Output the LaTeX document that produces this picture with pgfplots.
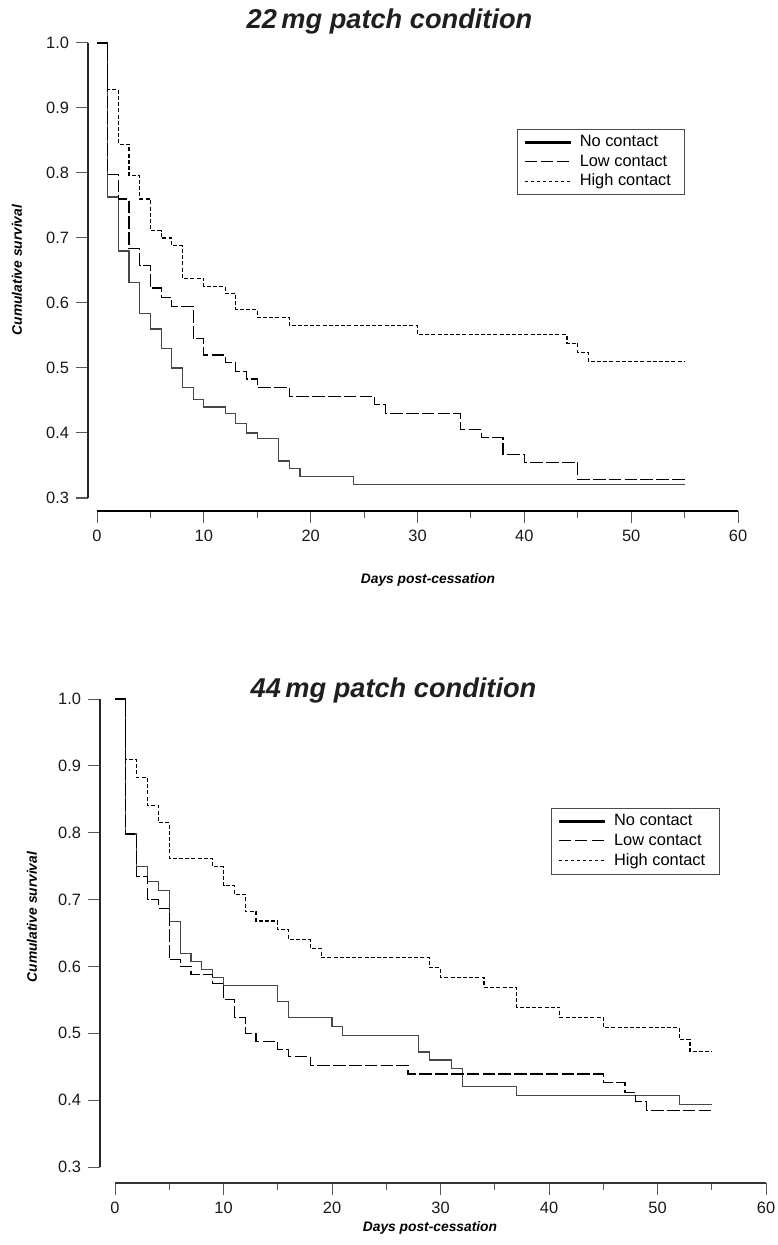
\documentclass[border=0pt]{standalone}
\usepackage{pgfplots}
\pgfplotsset{compat=1.18}
\usepackage{fontspec}
\setmainfont{Liberation Sans}

\pgfplotsset{
  kmaxis/.style={
    scale only axis,
    xmin=0, xmax=60, ymin=0.3, ymax=1.0,
    axis x line=bottom, axis y line=left,
    axis line style={-},
    x axis line style={line width=1pt, black},
    y axis line style={line width=0.7pt, black!85},
    xtick={0,10,...,60}, minor x tick num=1,
    ytick={0.3,0.4,...,1.0},
    tick align=outside,
    major tick length=6pt, minor tick length=3.5pt,
    every tick/.style={black!65, line width=0.5pt},
    tick label style={font=\fontsize{8.2}{9.5}\selectfont, black!90},
    /pgf/number format/assume math mode=true,
    yticklabel style={/pgf/number format/.cd, fixed, fixed zerofill, precision=1},
    xticklabel style={/pgf/number format/.cd, fixed, precision=0},
    clip=false,
    legend cell align=left,
    legend style={draw=black!70, line width=0.5pt, fill=white,
      font=\fontsize{8.2}{9.6}\selectfont,
      inner xsep=3pt, inner ysep=1pt, row sep=-1.5pt,
      nodes={inner xsep=4pt, inner ysep=2pt}},
    legend image code/.code={\draw[##1] (0pt,0pt) -- (23pt,0pt);},
  },
  nocon/.style={const plot, black!72, line width=0.6pt},
  lowcon/.style={const plot, black, line width=0.6pt, dash pattern=on 6.3pt off 1.6pt},
  highcon/.style={const plot, black, line width=0.6pt, dash pattern=on 2pt off 1.1pt},
}

\begin{document}
\begin{tikzpicture}
\useasboundingbox (0,0) rectangle (388.5pt,-622.5pt);

% ---------------- top: 22 mg ----------------
\begin{axis}[kmaxis,
  at={(48.5pt,-21.5pt)}, anchor=north west,
  width=320.5pt, height=227.5pt,
  axis x line shift=6.5pt, axis y line shift=4.5pt,
  legend style={at={(0.655,0.811)}, anchor=north west},
]
\addplot[nocon, forget plot] coordinates {
(0,1) (1,0.763) (2,0.68) (3,0.632) (4,0.584) (5,0.56) (6,0.53) (7,0.50)
(8,0.47) (9,0.452) (10,0.44) (12,0.43) (13,0.415) (14,0.40) (15,0.392)
(17,0.357) (18,0.345) (19,0.333) (24,0.321) (55,0.321)};
\addplot[lowcon, forget plot] coordinates {
(0,1) (1,0.798) (2,0.76) (3,0.684) (4,0.658) (5,0.623) (6,0.608) (7,0.595)
(9,0.545) (10,0.52) (12,0.508) (13,0.495) (14,0.483) (15,0.47) (18,0.456)
(26,0.444) (27,0.430) (34,0.405) (36,0.393) (38,0.367) (40,0.354) (45,0.329) (55,0.329)};
\addplot[highcon, forget plot] coordinates {
(0,1) (1,0.928) (2,0.844) (3,0.796) (4,0.76) (5,0.711) (6,0.70) (7,0.688)
(8,0.638) (10,0.625) (12,0.615) (13,0.59) (15,0.578) (18,0.565) (30,0.551)
(44,0.538) (45,0.524) (46,0.51) (55,0.51)};
\addlegendimage{black, line width=1.2pt}
\addlegendentry{No contact}
\addlegendimage{black, line width=0.5pt, dash pattern=on 6pt off 2.2pt}
\addlegendentry{Low contact}
\addlegendimage{black, line width=0.5pt, dash pattern=on 1.8pt off 1.2pt}
\addlegendentry{High contact}
\end{axis}

% ---------------- bottom: 44 mg ----------------
\begin{axis}[kmaxis,
  at={(57.5pt,-349.5pt)}, anchor=north west,
  width=325.5pt, height=234pt,
  axis x line shift=8pt, axis y line shift=7.5pt,
  x axis line style={line width=0.8pt, black!80},
  legend style={at={(0.670,0.767)}, anchor=north west},
]
\addplot[nocon, forget plot] coordinates {
(0,1) (1,0.798) (2,0.75) (3,0.727) (4,0.714) (5,0.667) (6,0.619) (7,0.607)
(8,0.595) (9,0.583) (10,0.571) (15,0.548) (16,0.524) (20,0.51) (21,0.497)
(28,0.472) (29,0.46) (31,0.447) (32,0.421) (37,0.407) (52,0.393) (55,0.393)};
\addplot[lowcon, forget plot] coordinates {
(0,1) (1,0.798) (2,0.735) (3,0.70) (4,0.687) (5,0.61) (6,0.60) (7,0.588)
(9,0.575) (10,0.55) (11,0.524) (12,0.50) (13,0.488) (15,0.476) (16,0.465)
(18,0.452) (27,0.439) (45,0.426) (47,0.412) (48,0.398) (49,0.384) (55,0.384)};
\addplot[highcon, forget plot] coordinates {
(0,1) (1,0.909) (2,0.882) (3,0.841) (4,0.815) (5,0.762) (9,0.749) (10,0.721)
(11,0.708) (12,0.682) (13,0.668) (15,0.655) (16,0.640) (18,0.627) (19,0.613)
(29,0.598) (30,0.584) (34,0.569) (37,0.539) (41,0.524) (45,0.509) (52,0.491)
(53,0.473) (55,0.473)};
\addlegendimage{black, line width=1.2pt}
\addlegendentry{No contact}
\addlegendimage{black, line width=0.5pt, dash pattern=on 6pt off 2.2pt}
\addlegendentry{Low contact}
\addlegendimage{black, line width=0.5pt, dash pattern=on 1.8pt off 1.2pt}
\addlegendentry{High contact}
\end{axis}

% titles and axis labels
\node[font=\fontsize{13.6}{16}\selectfont\bfseries\itshape, text=black!88] at (194.75pt,-10.5pt) {22\,mg patch condition};
\node[font=\fontsize{13.6}{16}\selectfont\bfseries\itshape, text=black!88] at (196.75pt,-345pt) {44\,mg patch condition};
\node[font=\fontsize{6.9}{8}\selectfont\bfseries\itshape, rotate=90] at (8.5pt,-135pt) {Cumulative survival};
\node[font=\fontsize{6.9}{8}\selectfont\bfseries\itshape, rotate=90] at (16pt,-458.5pt) {Cumulative survival};
\node[font=\fontsize{6.9}{8}\selectfont\bfseries\itshape] at (214pt,-290pt) {Days post-cessation};
\node[font=\fontsize{6.9}{8}\selectfont\bfseries\itshape] at (215pt,-614pt) {Days post-cessation};
\end{tikzpicture}
\end{document}
